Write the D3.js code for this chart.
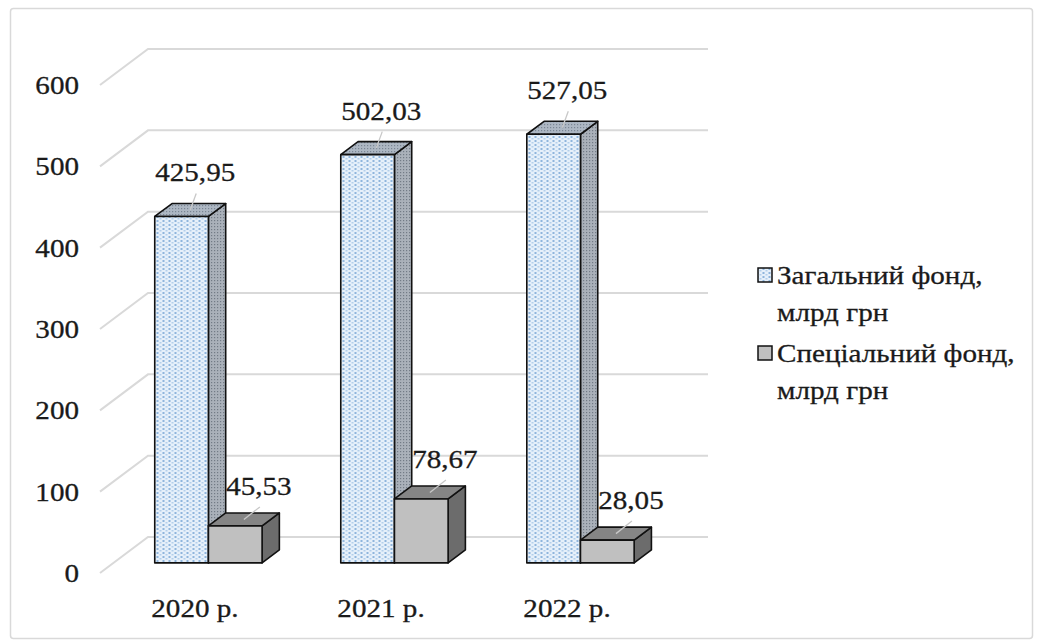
<!DOCTYPE html>
<html><head><meta charset="utf-8">
<script src="https://cdn.jsdelivr.net/npm/d3@7"></script>
<style>body{margin:0;background:#fff}svg{display:block}text{font-family:"Liberation Serif","Times New Roman",serif;fill:#1a1a1a;stroke:#1a1a1a;stroke-width:0.3}</style>
</head><body><svg id="c" width="1040" height="643"></svg>
<script>
// ---- data ----
const categories = ["2020 р.", "2021 р.", "2022 р."];
const generalFund = [425.95, 502.03, 527.05];
const specialFund = [45.53, 78.67, 28.05];
const yTicks = [0, 100, 200, 300, 400, 500, 600];
const fmt = v => v.toFixed(2).replace(".", ",");
const legendLines = [["Загальний фонд,", "млрд грн"], ["Спеціальний фонд,", "млрд грн"]];

// ---- layout ----
const svg = d3.select("#c");
const SX = 1.12;            // horizontal stretch of text
const FS = 26;
const backBase = 537;       // y of value 0 on back wall
const DX = 48, DY = 36;     // wall depth (front is left/down of back)
const tFront = 0.72, tBack = 0.36; // bar depth positions (fraction toward front)
const h = d3.scaleLinear().domain([0, 600]).range([0, 488]);
const x = d3.scaleBand().domain(categories).range([148, 710]).paddingInner(0.423).paddingOuter(0.222);
const P = (xb, v, t) => [xb - DX * t, backBase - h(v) + DY * t];

const defs = svg.append("defs");
const pf = defs.append("pattern").attr("id", "gFront").attr("patternUnits", "userSpaceOnUse").attr("width", 6).attr("height", 4);
pf.append("rect").attr("width", 6).attr("height", 4).attr("fill", "#e6f0fa");
pf.append("rect").attr("x", 0.5).attr("y", 0).attr("width", 2).attr("height", 2).attr("fill", "#8fb5dc");
pf.append("rect").attr("x", 3.5).attr("y", 2).attr("width", 2).attr("height", 1.5).attr("fill", "#b3cfeb");
const ps = defs.append("pattern").attr("id", "gSide").attr("patternUnits", "userSpaceOnUse").attr("width", 3).attr("height", 3);
ps.append("rect").attr("width", 3).attr("height", 3).attr("fill", "#aab1ba");
ps.append("rect").attr("x", 1).attr("y", 1).attr("width", 1.2).attr("height", 1.2).attr("fill", "#727b86");
const pt = defs.append("pattern").attr("id", "gTop").attr("patternUnits", "userSpaceOnUse").attr("width", 3).attr("height", 3);
pt.append("rect").attr("width", 3).attr("height", 3).attr("fill", "#adb7c3");
pt.append("rect").attr("x", 1).attr("y", 1).attr("width", 1.2).attr("height", 1.2).attr("fill", "#7a8694");

const seriesStyle = [
  { values: generalFund, front: "url(#gFront)", top: "url(#gTop)", side: "url(#gSide)", ldx: 5, ldy: -35 },
  { values: specialFund, front: "#c0c0c0", top: "#858585", side: "#6c6c6c", ldx: 15, ldy: -31 }
];

function txt(g, tx, ty, s, anchor, size) {
  return g.append("text").attr("transform", `translate(${tx},${ty}) scale(${SX},1)`)
    .attr("text-anchor", anchor).attr("font-size", size || FS).text(s);
}

// chart border
svg.append("rect").attr("x", 10.5).attr("y", 8.5).attr("width", 1022).attr("height", 630)
  .attr("rx", 3).attr("fill", "#fff").attr("stroke", "#d9d9d9").attr("stroke-width", 1.5);

// gridlines (back wall + side)
const grid = svg.append("g");
yTicks.forEach(v => {
  const a = P(148, v, 1), b = P(148, v, 0), c = P(708, v, 0);
  grid.append("path").attr("d", `M${a}L${b}L${c}`).attr("fill", "none")
    .attr("stroke", "#d9d9d9").attr("stroke-width", 2);
});

// y labels
const yl = svg.append("g");
yTicks.forEach(v => { txt(yl, 79, P(148, v, 1)[1] + 9, String(v), "end"); });

// bars
const bw = x.bandwidth() / 2;
const bars = svg.append("g");
const labels = svg.append("g");
const poly = pts => "M" + pts.map(p => p.join(",")).join("L") + "Z";
categories.forEach((cat, i) => {
  seriesStyle.forEach((s, si) => {
    const v = s.values[i];
    const x0 = x(cat) + si * bw, x1 = x0 + bw;
    const st = sel => sel.attr("stroke", "#111").attr("stroke-width", 1.6).attr("stroke-linejoin", "round");
    bars.append("path").attr("d", poly([P(x1, 0, tFront), P(x1, 0, tBack), P(x1, v, tBack), P(x1, v, tFront)])).attr("fill", s.side).call(st);
    bars.append("path").attr("d", poly([P(x0, v, tFront), P(x1, v, tFront), P(x1, v, tBack), P(x0, v, tBack)])).attr("fill", s.top).call(st);
    bars.append("path").attr("d", poly([P(x0, 0, tFront), P(x1, 0, tFront), P(x1, v, tFront), P(x0, v, tFront)])).attr("fill", s.front).call(st);
    const tm = (tFront + tBack) / 2;
    const tc = P((x0 + x1) / 2, v, tm);
    const ft = P(x0, v, tFront)[1];
    const lx = tc[0] + s.ldx, ly = ft + s.ldy;
    labels.append("line").attr("x1", lx + 1).attr("y1", ly + 12).attr("x2", tc[0]).attr("y2", tc[1])
      .attr("stroke", "#c8c8c8").attr("stroke-width", 1.3);
    txt(labels, lx, ly, fmt(v), "middle");
  });
  const cx = P(x(cat) + x.bandwidth() / 2, 0, 1)[0];
  txt(svg, cx, 617, cat, "middle");
});

// legend
const lg = svg.append("g");
const legFill = ["url(#gFront)", "#c0c0c0"];
legendLines.forEach((lines, i) => {
  const base = 284 + i * 78;
  lg.append("rect").attr("x", 758).attr("y", base - 16).attr("width", 14).attr("height", 14)
    .attr("fill", legFill[i]).attr("stroke", "#111").attr("stroke-width", 1.5);
  lines.forEach((l, j) => txt(lg, 777, base + j * 37, l, "start"));
});
</script></body></html>
